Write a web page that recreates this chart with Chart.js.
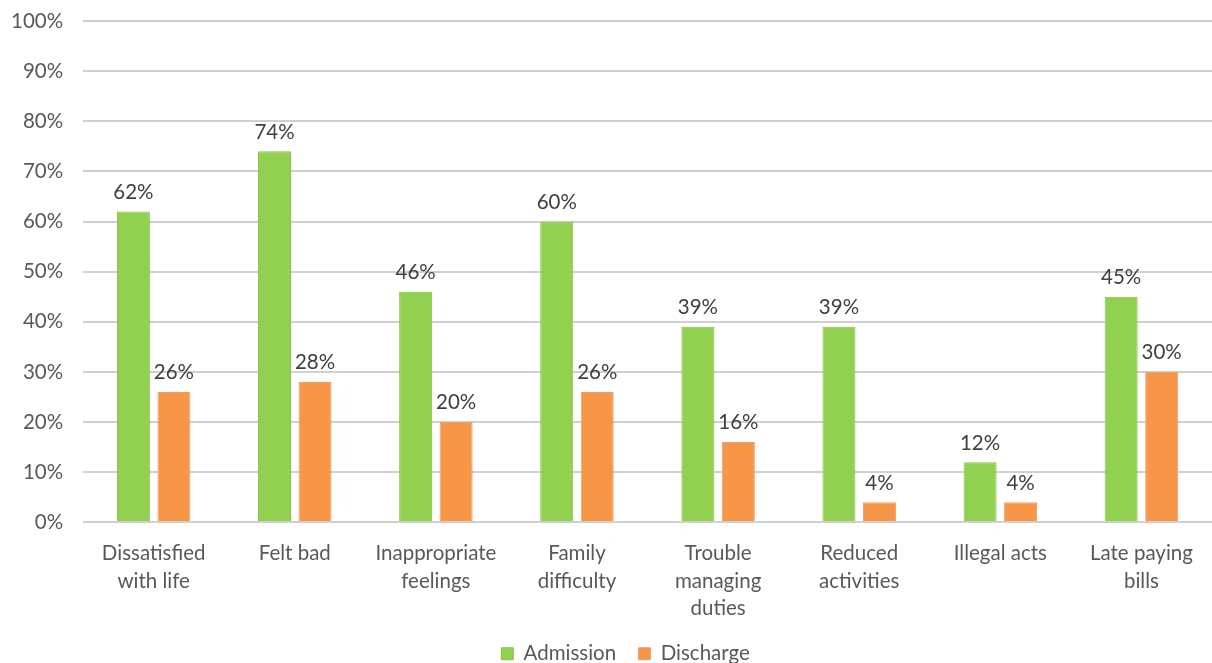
<!DOCTYPE html>
<html><head><meta charset="utf-8">
<script src="https://cdn.jsdelivr.net/npm/chart.js@4/dist/chart.umd.min.js"></script>
<style>html,body{margin:0;padding:0;background:#fff;overflow:hidden}#wrap{width:1212px;height:663px;position:relative}</style>
</head><body><div id="wrap"><canvas id="c"></canvas></div>
<script>
const categories = [["Dissatisfied","with life"],["Felt bad"],["Inappropriate","feelings"],["Family","difficulty"],["Trouble","managing","duties"],["Reduced","activities"],["Illegal acts"],["Late paying","bills"]];
const admission = [62,74,46,60,39,39,12,45];
const discharge = [26,28,20,26,16,4,4,30];
const yTicks = [0,10,20,30,40,50,60,70,80,90,100];

const FONT = "Lato, 'Open Sans', sans-serif";
const FS = 20.5;
const labelPlugin = {
  id:'vals',
  afterLayout(chart){
    if (chart.legend){ chart.legend.left -= 22; chart.legend.right -= 22; }
  },
  afterDatasetsDraw(chart){
    const ctx = chart.ctx;
    ctx.save();
    ctx.font = FS + "px " + FONT;
    ctx.fillStyle = "#404040";
    ctx.textAlign = "center";
    ctx.textBaseline = "bottom";
    chart.data.datasets.forEach((ds,i)=>{
      chart.getDatasetMeta(i).data.forEach((bar,j)=>{
        ctx.fillText(ds.data[j]+"%", bar.x, bar.y-9);
      });
    });
    ctx.restore();
  }
};

new Chart(document.getElementById('c'),{
  type:'bar',
  data:{labels:categories,datasets:[
    {label:'Admission',data:admission,backgroundColor:'#92d050',borderColor:'#88c24a',borderWidth:1},
    {label:'Discharge',data:discharge,backgroundColor:'#f79646',borderColor:'#e8a070',borderWidth:1}
  ]},
  options:{
    responsive:true,maintainAspectRatio:false,animation:false,
    datasets:{bar:{categoryPercentage:0.574,barPercentage:0.815}},
    layout:{padding:{left:-9,right:0,top:0,bottom:-11}},
    plugins:{
      tooltip:{enabled:false},
      legend:{position:'bottom',fullSize:false,
        labels:{boxWidth:12,boxHeight:12,padding:12,color:'#595959',font:{family:FONT,size:FS},
          generateLabels(chart){
            const items = Chart.defaults.plugins.legend.labels.generateLabels(chart);
            items.forEach((it,i)=>{ if(i===0) it.text = it.text + '\u2002'; });
            return items;
          }}}
    },
    scales:{
      x:{grid:{display:false},border:{display:false},
         ticks:{color:'#595959',font:{family:FONT,size:FS,lineHeight:1.32},padding:10,maxRotation:0,autoSkip:false}},
      y:{min:0,max:100,
         afterBuildTicks(ax){ax.ticks = yTicks.map(v=>({value:v}));},
         afterFit(ax){ax.paddingTop = 21; ax.paddingBottom = 12;},
         grid:{color:'#d0d0d0',lineWidth:2,drawTicks:false},border:{display:false},
         ticks:{color:'#595959',font:{family:FONT,size:FS},padding:20,callback:v=>v+'%'}}
    }
  },
  plugins:[labelPlugin]
});
</script></body></html>
